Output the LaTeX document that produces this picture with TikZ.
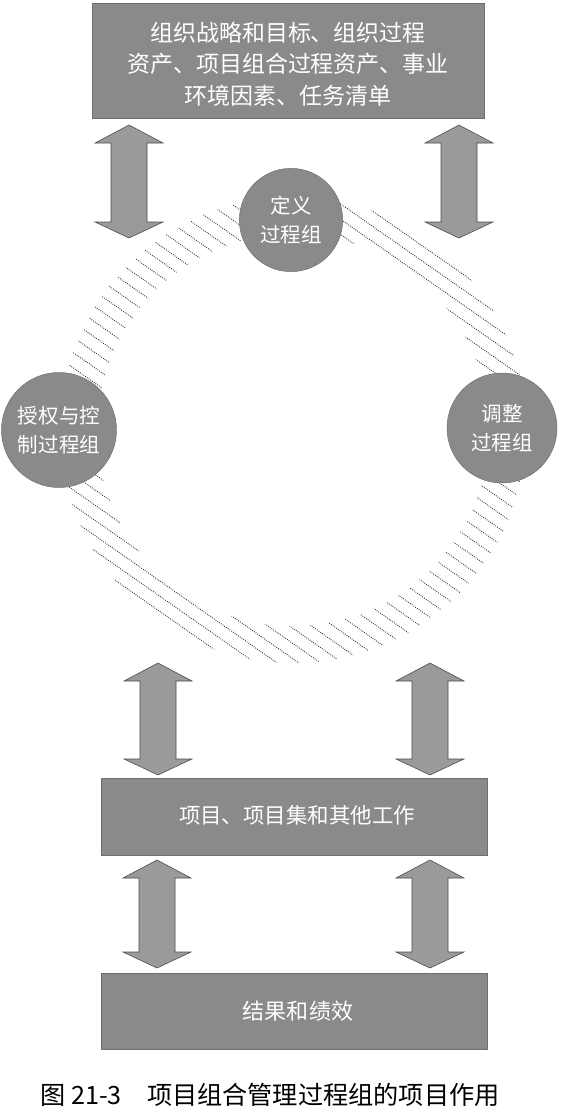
\documentclass[tikz,border=0pt]{standalone}
\usepackage{fontspec}
\newfontfamily\cjk{Noto Sans CJK SC}
\usetikzlibrary{calc}
\definecolor{boxgray}{HTML}{8A8A8A}
\definecolor{arrgray}{HTML}{9A9A9A}
\begin{document}
\begin{tikzpicture}[x=0.03cm,y=-0.03cm,
  box/.style={fill=boxgray,draw=boxgray!80!black,line width=0.4pt},
  circ/.style={circle,fill=boxgray,draw=boxgray!80!black,inner sep=0pt},
  wtext/.style={text=white,font=\cjk\fontsize{19.6pt}{27pt}\selectfont,align=center},
  ctext/.style={text=white,font=\cjk\fontsize{17.5pt}{24.5pt}\selectfont,align=center},
  blk/.style={fill=arrgray,draw=black!70,line width=0.5pt},
  hatch/.style={dash pattern=on 0.7pt off 1.1pt,line width=0.8pt,black!80}]
\useasboundingbox (0,0) rectangle (569,1118);
% boxes
\fill[box] (92,3) rectangle (484,118);
\node[wtext] (top) at (288,64) {组织战略和目标、组织过程\\资产、项目组合过程资产、事业\\环境因素、任务清单};
\fill[box] (101,778) rectangle (487,855);
\node[wtext,font=\cjk\fontsize{18.3pt}{24pt}\selectfont] (mid) at (297,815) {项目、项目集和其他工作};
\fill[box] (101,973) rectangle (487,1049);
\node[wtext,font=\cjk\fontsize{18.8pt}{24pt}\selectfont] (bot) at (298,1011) {结果和绩效};
% ring hatch
\coordinate (rc) at (293,430);
\begin{scope}[even odd rule]
\clip (rc) circle (233) (rc) circle (196);
\foreach \i in {-22,...,22}
  \draw[hatch] ($(rc)+({-\i*12.5*0.574},{\i*12.5*0.819})+(-246,-172)$) -- ($(rc)+({-\i*12.5*0.574},{\i*12.5*0.819})+(246,172)$);
\end{scope}
% circles
\node[circ,minimum size=3.1cm] (def) at (291,220) {};
\node[ctext] at (def) {定义\\过程组};
\node[circ,minimum size=3.45cm] (auth) at (59,430) {};
\node[ctext] at (auth) {授权与控\\制过程组};
\node[circ,minimum size=3.3cm] (adj) at (502,428) {};
\node[ctext] at (adj) {调整\\过程组};
% block arrows
\newcommand\blockarr[3]{%
  \draw[blk] (#1,#2) -- (#1+34,#2+18) -- (#1+18,#2+18) -- (#1+18,#3-16) -- (#1+34,#3-16)
   -- (#1,#3) -- (#1-34,#3-16) -- (#1-18,#3-16) -- (#1-18,#2+18) -- (#1-34,#2+18) -- cycle;}
\blockarr{129}{125}{238}
\blockarr{459}{125}{238}
\blockarr{158}{663}{775}
\blockarr{430}{663}{775}
\blockarr{157}{860}{968}
\blockarr{430}{860}{968}
% caption
\node[font=\cjk\fontsize{21.5pt}{24pt}\selectfont] (cap) at (270,1095) {图 21-3\quad 项目组合管理过程组的项目作用};
\end{tikzpicture}
\end{document}
